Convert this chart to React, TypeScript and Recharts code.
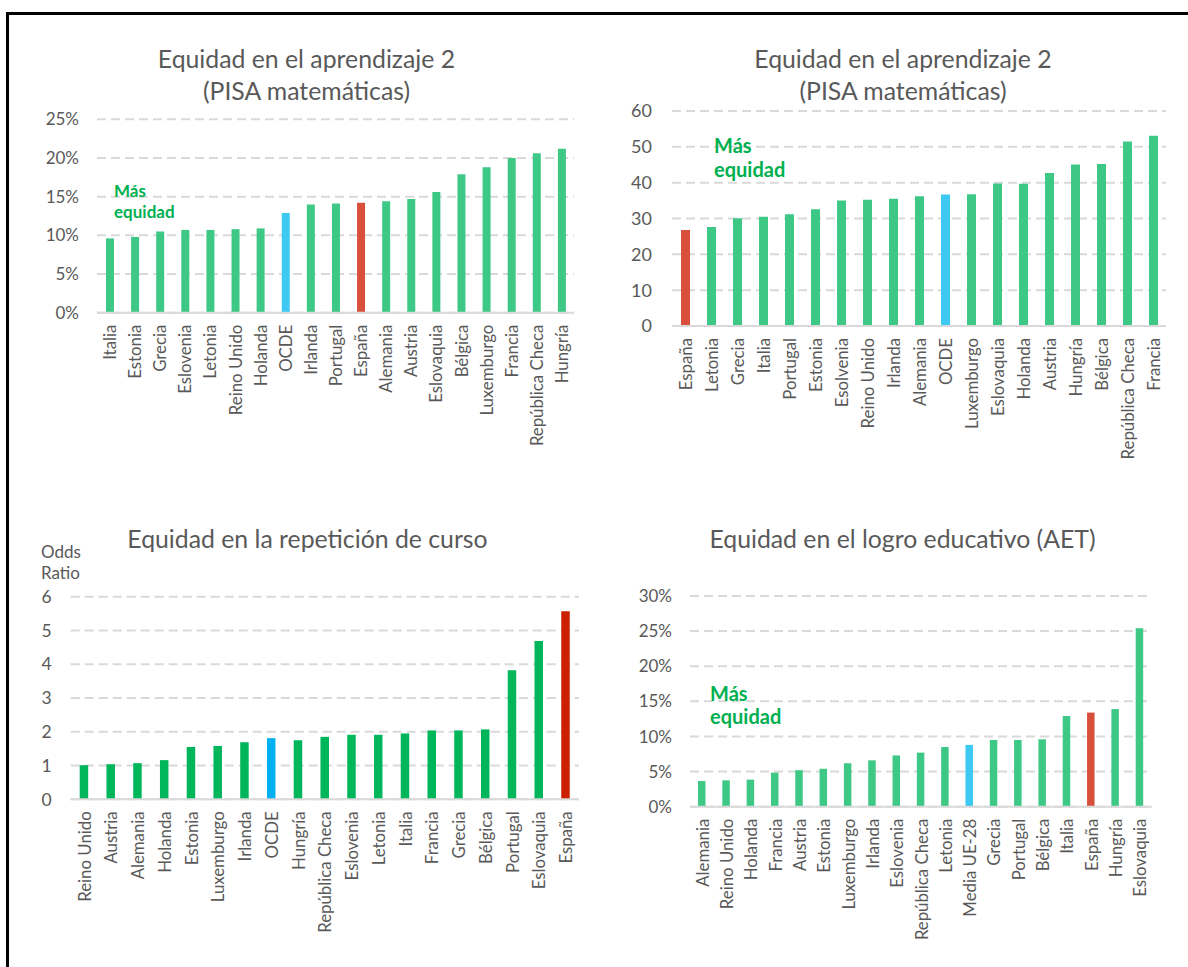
import React from "react";
import { BarChart, Bar, XAxis, YAxis, CartesianGrid, Cell } from "recharts";

// Panel 1: Equidad en el aprendizaje 2 (PISA matemáticas), %
const pisaPctCountries = ["Italia", "Estonia", "Grecia", "Eslovenia", "Letonia", "Reino Unido", "Holanda", "OCDE", "Irlanda", "Portugal", "España", "Alemania", "Austria", "Eslovaquia", "Bélgica", "Luxemburgo", "Francia", "República Checa", "Hungría"];
const pisaPctValues = [9.6, 9.8, 10.5, 10.7, 10.7, 10.8, 10.9, 12.9, 14.0, 14.1, 14.2, 14.4, 14.7, 15.6, 17.9, 18.8, 20.0, 20.6, 21.2];
const pisaPctTicks = [0, 5, 10, 15, 20, 25];

// Panel 2: Equidad en el aprendizaje 2 (PISA matemáticas), puntos
const pisaPtsCountries = ["España", "Letonia", "Grecia", "Italia", "Portugal", "Estonia", "Esolvenia", "Reino Unido", "Irlanda", "Alemania", "OCDE", "Luxemburgo", "Eslovaquia", "Holanda", "Austria", "Hungría", "Bélgica", "República Checa", "Francia"];
const pisaPtsValues = [26.8, 27.6, 30.1, 30.5, 31.2, 32.6, 35.0, 35.2, 35.5, 36.2, 36.7, 36.8, 39.8, 39.7, 42.7, 45.1, 45.2, 51.5, 53.1];
const pisaPtsTicks = [0, 10, 20, 30, 40, 50, 60];

// Panel 3: Equidad en la repetición de curso (odds ratio)
const repCountries = ["Reino Unido", "Austria", "Alemania", "Holanda", "Estonia", "Luxemburgo", "Irlanda", "OCDE", "Hungría", "República Checa", "Eslovenia", "Letonia", "Italia", "Francia", "Grecia", "Bélgica", "Portugal", "Eslovaquia", "España"];
const repValues = [1.01, 1.04, 1.07, 1.16, 1.55, 1.58, 1.69, 1.81, 1.75, 1.85, 1.91, 1.91, 1.95, 2.04, 2.04, 2.07, 3.82, 4.69, 5.57];
const repTicks = [0, 1, 2, 3, 4, 5, 6];

// Panel 4: Equidad en el logro educativo (AET), %
const aetCountries = ["Alemania", "Reino Unido", "Holanda", "Francia", "Austria", "Estonia", "Luxemburgo", "Irlanda", "Eslovenia", "República Checa", "Letonia", "Media UE-28", "Grecia", "Portugal", "Bélgica", "Italia", "España", "Hungría", "Eslovaquia"];
const aetValues = [3.65, 3.75, 3.85, 4.85, 5.2, 5.4, 6.2, 6.6, 7.3, 7.7, 8.5, 8.8, 9.5, 9.5, 9.6, 12.9, 13.4, 13.9, 25.4];
const aetTicks = [0, 5, 10, 15, 20, 25, 30];

const TEXT = "#595959";
const GRID = "#D9D9D9";
const AXIS_FONT = "Lato";
const TITLE_FONT = "Lato";
const MAS = "#00B050";

const SOFT = { green: "#3EC886", blue: "#3DC9F2", red: "#D8503C" };
const STRONG = { green: "#00B65A", blue: "#00B0F0", red: "#CC2000" };

function colorFor(name: string, pal: { green: string; blue: string; red: string }) {
  if (name === "España") return pal.red;
  if (name === "OCDE" || name === "Media UE-28") return pal.blue;
  return pal.green;
}

function RotatedTick({ x, y, payload }: any) {
  return (
    <text
      x={0}
      y={0}
      transform={`translate(${x},${y}) rotate(-90)`}
      textAnchor="end"
      dominantBaseline="central"
      style={{ fill: TEXT, fontSize: "16.8px", fontFamily: AXIS_FONT }}
    >
      {payload.value}
    </text>
  );
}

interface PanelProps {
  countries: string[];
  values: number[];
  ticks: number[];
  suffix: string;
  palette: { green: string; blue: string; red: string };
  box: [number, number, number, number]; // x, y, w, h of the chart svg
  plot: [number, number, number, number]; // left, right, top, bottom on page
  barSize: number;
  yGap: number;
  yFont: number;
}

function Panel({ countries, values, ticks, suffix, palette, box, plot, barSize, yGap, yFont }: PanelProps) {
  const [bx, by, bw, bh] = box;
  const [L, R, T, B] = plot;
  const xH = 150;
  const data = countries.map((c, i) => ({ name: c, value: values[i] }));
  return (
    <div style={{ position: "absolute", left: bx, top: by }}>
      <BarChart
        width={bw}
        height={bh}
        data={data}
        margin={{ top: T - by, right: bx + bw - R, bottom: by + bh - B - xH, left: 0 }}
      >
        <CartesianGrid vertical={false} stroke={GRID} strokeWidth={2} strokeDasharray="9 5" />
        <XAxis
          dataKey="name"
          interval={0}
          height={xH}
          tickLine={false}
          tickSize={0}
          tickMargin={12}
          axisLine={{ stroke: GRID, strokeWidth: 2 }}
          tick={<RotatedTick />}
        />
        <YAxis
          width={L - bx}
          domain={[0, ticks[ticks.length - 1]]}
          ticks={ticks}
          interval={0}
          axisLine={false}
          tickLine={false}
          tickSize={0}
          tickMargin={yGap}
          tickFormatter={(v: number) => `${v}${suffix}`}
          tick={{ fill: TEXT, fontSize: yFont, fontFamily: AXIS_FONT }}
        />
        <Bar dataKey="value" barSize={barSize} isAnimationActive={false}>
          {data.map((d) => (
            <Cell key={d.name} fill={colorFor(d.name, palette)} />
          ))}
        </Bar>
      </BarChart>
    </div>
  );
}

function Title({ cx, top, lines }: { cx: number; top: number; lines: string[] }) {
  return (
    <div
      style={{
        position: "absolute",
        left: cx - 300,
        top,
        width: 600,
        textAlign: "center",
        fontFamily: TITLE_FONT,
        fontSize: 24.8,
        lineHeight: "32.5px",
        color: TEXT,
      }}
    >
      {lines.map((l) => (
        <div key={l}>{l}</div>
      ))}
    </div>
  );
}

function MasEquidad({ left, top, size, lh }: { left: number; top: number; size: number; lh: number }) {
  return (
    <div
      style={{
        position: "absolute",
        left,
        top,
        fontFamily: TITLE_FONT,
        fontWeight: 700,
        fontSize: size,
        lineHeight: `${lh}px`,
        color: MAS,
      }}
    >
      <div>Más</div>
      <div>equidad</div>
    </div>
  );
}

export default function App() {
  return (
    <div style={{ position: "absolute", left: 0, top: 0, width: 1188, height: 967, overflow: "hidden", background: "#fff" }}>
      <div
        style={{
          position: "absolute",
          left: 6,
          top: 12,
          width: 1400,
          height: 1200,
          borderTop: "3px solid #000",
          borderLeft: "3px solid #000",
        }}
      />

      <Title cx={306.5} top={42.5} lines={["Equidad en el aprendizaje 2", "(PISA matemáticas)"]} />
      <Title cx={903} top={42.5} lines={["Equidad en el aprendizaje 2", "(PISA matemáticas)"]} />
      <Title cx={307.5} top={523} lines={["Equidad en la repetición de curso"]} />
      <Title cx={902.5} top={523} lines={["Equidad en el logro educativo (AET)"]} />

      <Panel
        countries={pisaPctCountries}
        values={pisaPctValues}
        ticks={pisaPctTicks}
        suffix="%"
        palette={SOFT}
        box={[0, 0, 594, 480]}
        plot={[97, 574, 119.3, 312.7]}
        barSize={8}
        yGap={18}
        yFont={17}
      />
      <Panel
        countries={pisaPtsCountries}
        values={pisaPtsValues}
        ticks={pisaPtsTicks}
        suffix=""
        palette={SOFT}
        box={[594, 0, 594, 480]}
        plot={[672, 1166, 111, 326]}
        barSize={9}
        yGap={20}
        yFont={18}
      />
      <Panel
        countries={repCountries}
        values={repValues}
        ticks={repTicks}
        suffix=""
        palette={STRONG}
        box={[0, 480, 594, 480]}
        plot={[70.7, 579, 596.7, 799.3]}
        barSize={8.5}
        yGap={19}
        yFont={17.5}
      />
      <Panel
        countries={aetCountries}
        values={aetValues}
        ticks={aetTicks}
        suffix="%"
        palette={SOFT}
        box={[594, 480, 594, 480]}
        plot={[690, 1152, 596, 806.7]}
        barSize={7.5}
        yGap={18}
        yFont={17}
      />

      <div
        style={{
          position: "absolute",
          left: 41,
          top: 542,
          fontFamily: TITLE_FONT,
          fontSize: 17,
          lineHeight: "20.5px",
          color: TEXT,
        }}
      >
        <div>Odds</div>
        <div>Ratio</div>
      </div>

      <MasEquidad left={114} top={180} size={17} lh={21} />
      <MasEquidad left={714} top={133} size={20} lh={24} />
      <MasEquidad left={710} top={682} size={20} lh={23} />
    </div>
  );
}
